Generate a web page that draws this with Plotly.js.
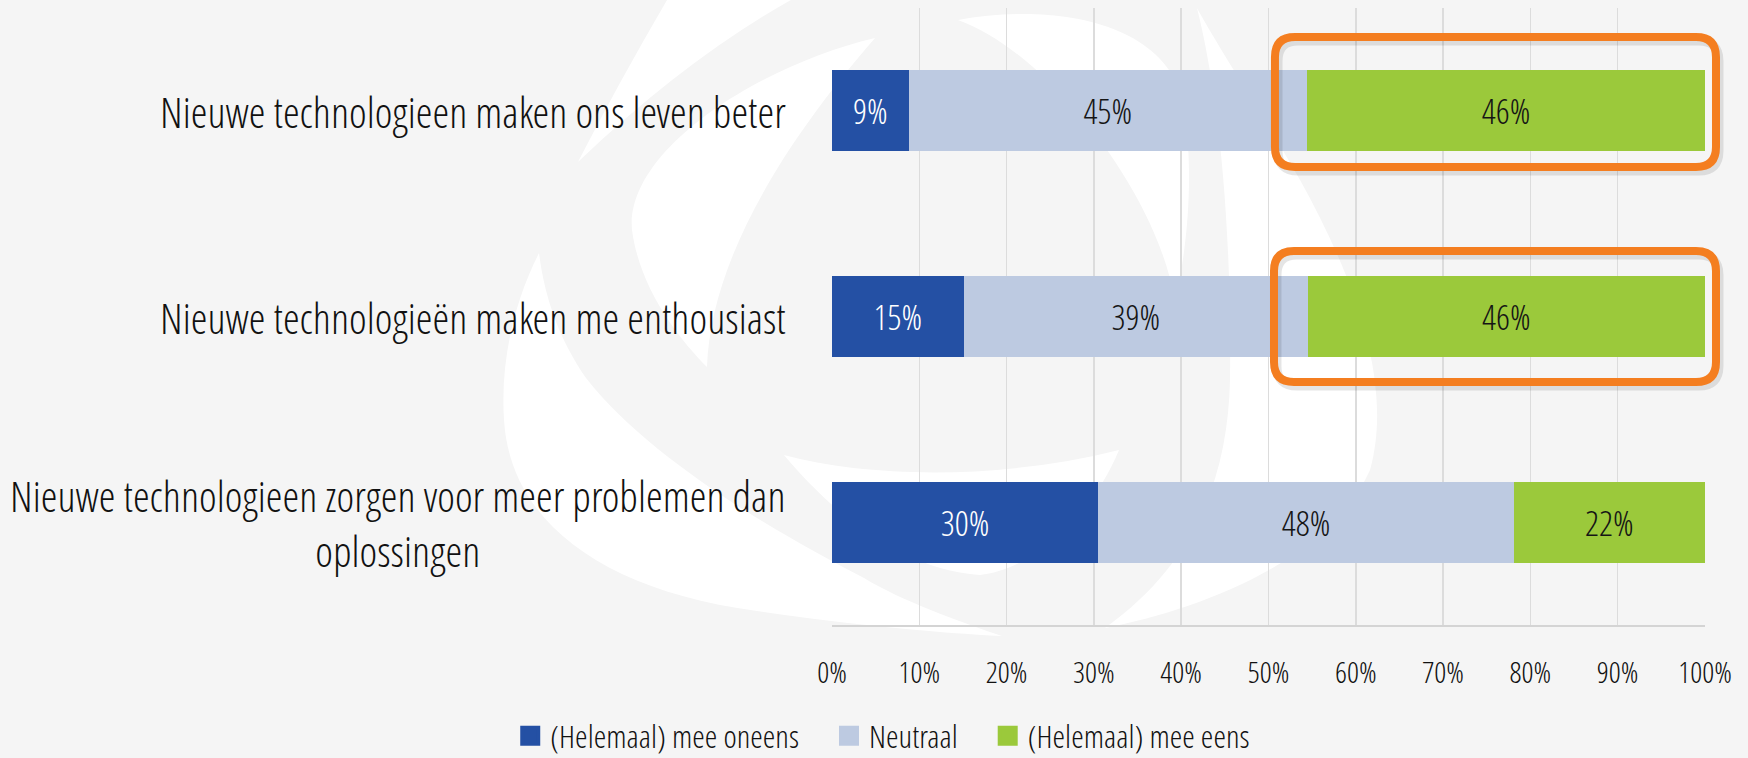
<!DOCTYPE html>
<html>
<head>
<meta charset="utf-8">
<script src="https://cdn.plot.ly/plotly-3.0.1.min.js"></script>
<style>
  html, body { margin: 0; padding: 0; background: #f5f5f5; }
  #chart { width: 1748px; height: 758px; }
  #chart svg text { font-stretch: 75%; }
</style>
</head>
<body>
<div id="chart"></div>
<script>
// ---- data ----
const categories = [
  "Nieuwe technologieen maken ons leven beter",
  "Nieuwe technologieën maken me enthousiast",
  "Nieuwe technologieen zorgen voor meer problemen dan<br>oplossingen"
];
const seriesNames = ["(Helemaal) mee oneens", "Neutraal", "(Helemaal) mee eens"];
const oneens = [8.8, 15.1, 30.5];
const neutraal = [45.6, 39.4, 47.6];
const eens = [45.6, 45.5, 21.9];
const oneensLabels = ["9%", "15%", "30%"];
const neutraalLabels = ["45%", "39%", "48%"];
const eensLabels = ["46%", "46%", "22%"];
const xTickVals = [0, 10, 20, 30, 40, 50, 60, 70, 80, 90, 100];
const xTickText = ["0%", "10%", "20%", "30%", "40%", "50%", "60%", "70%", "80%", "90%", "100%"];

// ---- style ----
const FONT = '"Open Sans Condensed Light", "Open Sans Condensed", "Open Sans", "Liberation Sans Narrow", sans-serif';
const colors = ["#2450A4", "#BDCAE1", "#9BC93B"];
const textColors = ["#ffffff", "#151515", "#151515"];

const values = [oneens, neutraal, eens];
const labels = [oneensLabels, neutraalLabels, eensLabels];

const traces = [];
for (let i = 0; i < 3; i++) {
  traces.push({
    type: "bar",
    orientation: "h",
    name: seriesNames[i],
    legendgroup: "g" + i,
    showlegend: false,
    x: values[i],
    y: categories,
    text: labels[i],
    textposition: "inside",
    insidetextanchor: "middle",
    textangle: 0,
    textfont: { family: FONT, size: 35, color: textColors[i], weight: 300 },
    marker: { color: colors[i], line: { width: 0 } },
    hoverinfo: "skip"
  });
}
// legend entries (square markers)
const legendPad = ["\u00a0\u00a0\u00a0", "\u00a0\u00a0\u00a0", ""];
for (let i = 0; i < 3; i++) {
  traces.push({
    type: "scatter",
    mode: "markers",
    name: seriesNames[i] + legendPad[i],
    legendgroup: "g" + i,
    showlegend: true,
    x: [null],
    y: [categories[0]],
    marker: { symbol: "square", size: 16, color: colors[i], line: { color: colors[i], width: 4 } },
    hoverinfo: "skip"
  });
}

// ---- geometry helpers for decorations (pixel -> paper) ----
const PL = 832, PR = 1705, PT = 8, PB = 625;
function P(x, y) {
  return ((x - PL) / (PR - PL)).toFixed(4) + "," + ((PB - y) / (PB - PT)).toFixed(4);
}
function roundRect(x0, y0, x1, y1, r) {
  return "M" + P(x0 + r, y0) + " L" + P(x1 - r, y0) + " Q" + P(x1, y0) + " " + P(x1, y0 + r) +
    " L" + P(x1, y1 - r) + " Q" + P(x1, y1) + " " + P(x1 - r, y1) +
    " L" + P(x0 + r, y1) + " Q" + P(x0, y1) + " " + P(x0, y1 - r) +
    " L" + P(x0, y0 + r) + " Q" + P(x0, y0) + " " + P(x0 + r, y0) + " Z";
}

const swirl = [
  "M" + P(670, -5) + " L" + P(800, -5) + " Q" + P(690, 55) + " " + P(578, 162) + " Q" + P(620, 80) + " " + P(670, -5) + " Z",
  "M" + P(875, 38) + " C" + P(760, 65) + " " + P(625, 150) + " " + P(632, 230) + " C" + P(640, 290) + " " + P(680, 340) + " " + P(707, 367) +
    " C" + P(710, 280) + " " + P(760, 170) + " " + P(875, 38) + " Z",
  "M" + P(539, 253) + " C" + P(515, 300) + " " + P(500, 360) + " " + P(504, 420) + " C" + P(510, 520) + " " + P(600, 590) + " " + P(757, 611) +
    " C" + P(850, 625) + " " + P(940, 633) + " " + P(1002, 636) + " C" + P(960, 622) + " " + P(900, 600) + " " + P(864, 578) +
    " C" + P(780, 535) + " " + P(650, 460) + " " + P(586, 378) + " C" + P(560, 340) + " " + P(545, 300) + " " + P(539, 253) + " Z",
  "M" + P(784, 455) + " C" + P(870, 478) + " " + P(1000, 480) + " " + P(1119, 450) + " C" + P(1090, 520) + " " + P(1030, 570) + " " + P(980, 575) +
    " C" + P(900, 570) + " " + P(830, 510) + " " + P(784, 455) + " Z",
  "M" + P(958, 20) + " C" + P(1040, 5) + " " + P(1150, 15) + " " + P(1180, 90) + " C" + P(1195, 150) + " " + P(1190, 240) + " " + P(1175, 300) +
    " C" + P(1160, 220) + " " + P(1110, 150) + " " + P(1076, 110) + " C" + P(1040, 70) + " " + P(1000, 35) + " " + P(958, 20) + " Z",
  "M" + P(1197, 8) + " C" + P(1215, 80) + " " + P(1232, 200) + " " + P(1230, 380) + " C" + P(1228, 470) + " " + P(1200, 560) + " " + P(1105, 628) +
    " C" + P(1200, 610) + " " + P(1330, 560) + " " + P(1370, 470) + " C" + P(1395, 380) + " " + P(1350, 270) + " " + P(1300, 180) +
    " C" + P(1260, 110) + " " + P(1220, 50) + " " + P(1197, 8) + " Z"
];

const shapes = swirl.map(function (d) {
  return { type: "path", xref: "paper", yref: "paper", path: d, fillcolor: "#ffffff", line: { width: 0 }, layer: "below" };
});
const boxes = [[1275, 37, 1716, 167], [1274, 251, 1716, 382]];
boxes.forEach(function (b) {
  shapes.push({ type: "path", xref: "paper", yref: "paper", path: roundRect(b[0] + 3, b[1] + 4, b[2] + 3, b[3] + 4, 20),
    line: { color: "rgba(0,0,0,0.10)", width: 9 }, fillcolor: "rgba(0,0,0,0)", layer: "above" });
  shapes.push({ type: "path", xref: "paper", yref: "paper", path: roundRect(b[0], b[1], b[2], b[3], 20),
    line: { color: "#F47E20", width: 8 }, fillcolor: "rgba(0,0,0,0)", layer: "above" });
});

const annotations = categories.map(function (c) {
  return {
    text: c, xref: "paper", yref: "y", x: 0, y: c, xanchor: "right", yanchor: "middle",
    xshift: -44, align: "center", showarrow: false,
    font: { family: FONT, size: 42.6, color: "#111111", weight: 300 }
  };
});

const layout = {
  width: 1748, height: 758,
  margin: { l: PL, r: 1748 - PR, t: PT, b: 758 - PB, pad: 0 },
  paper_bgcolor: "#f5f5f5",
  plot_bgcolor: "rgba(0,0,0,0)",
  barmode: "stack",
  bargap: 0.606,
  font: { family: FONT, weight: 300, color: "#111111" },
  xaxis: {
    range: [0, 100], tickvals: xTickVals, ticktext: xTickText,
    showgrid: true, gridcolor: "#dcdcdc", gridwidth: 1.5,
    zeroline: false, showline: true, linecolor: "#d4d4d4", linewidth: 2,
    ticks: "", ticklabelstandoff: 20,
    tickfont: { family: FONT, size: 30, color: "#111111", weight: 300 },
    fixedrange: true
  },
  yaxis: {
    type: "category", categoryorder: "array", categoryarray: categories,
    autorange: "reversed", showticklabels: false, showgrid: false, zeroline: false,
    showline: false, ticks: "", fixedrange: true
  },
  legend: {
    orientation: "h", xref: "container", yref: "container",
    x: 0.505, xanchor: "center", y: 0.029, yanchor: "middle",
    font: { family: FONT, size: 32, color: "#111111", weight: 300 },
    bgcolor: "rgba(0,0,0,0)", traceorder: "normal"
  },
  shapes: shapes,
  annotations: annotations,
  hovermode: false,
  showlegend: true
};

Plotly.newPlot("chart", traces, layout, { displayModeBar: false, staticPlot: true });
</script>
</body>
</html>
